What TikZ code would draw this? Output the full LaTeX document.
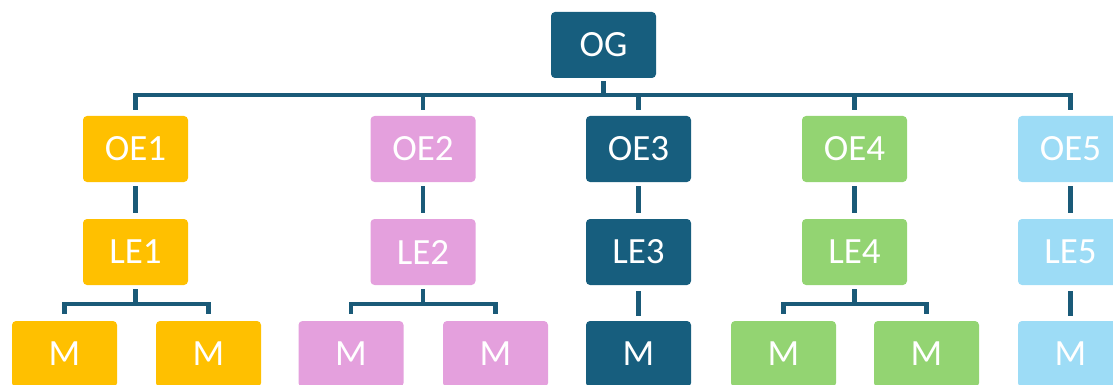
\documentclass[tikz,border=0pt]{standalone}
\usepackage{fontspec}
\setmainfont{Carlito}
\definecolor{dark}{HTML}{175E7E}
\definecolor{linec}{HTML}{1A5A78}
\definecolor{yel}{HTML}{FFC000}
\definecolor{pink}{HTML}{E4A0DD}
\definecolor{grn}{HTML}{93D472}
\definecolor{lblue}{HTML}{9DDCF6}
\begin{document}
\begin{tikzpicture}[x=1pt,y=-1pt,
  box/.style={rectangle, rounded corners=4pt, minimum width=105pt, minimum height=66pt, inner sep=0pt, text=white, font=\fontsize{37}{42}\selectfont},
  conn/.style={draw=linec, line width=4.5pt}]
\useasboundingbox (0,0) rectangle (1113,385);
% top
\node[box, fill=dark] (og) at (603.5,45) {OG};
% OE row
\node[box, fill=yel] (oe1) at (135.5,149) {OE1};
\node[box, fill=pink] (oe2) at (423,149) {OE2};
\node[box, fill=dark] (oe3) at (638.5,149) {OE3};
\node[box, fill=grn] (oe4) at (854.5,149) {OE4};
\node[box, fill=lblue] (oe5) at (1070.5,149) {OE5};
% LE row
\node[box, fill=yel] (le1) at (135.5,252) {LE1};
\node[box, fill=pink] (le2) at (423,252) {LE2};
\node[box, fill=dark] (le3) at (638.5,252) {LE3};
\node[box, fill=grn] (le4) at (854.5,252) {LE4};
\node[box, fill=lblue] (le5) at (1070.5,252) {LE5};
% M row
\node[box, fill=yel] (m1a) at (64.5,354) {M};
\node[box, fill=yel] (m1b) at (208.5,354) {M};
\node[box, fill=pink] (m2a) at (351,354) {M};
\node[box, fill=pink] (m2b) at (495.5,354) {M};
\node[box, fill=dark] (m3) at (638.5,354) {M};
\node[box, fill=grn] (m4a) at (783.5,354) {M};
\node[box, fill=grn] (m4b) at (926.5,354) {M};
\node[box, fill=lblue] (m5) at (1070.5,354) {M};
% OG to OE bus
\draw[conn, shorten <=3pt] (og.south) -- ++(0,17) coordinate (b0);
\foreach \n in {oe1,oe2,oe3,oe4,oe5}
  \draw[conn, shorten >=6pt] (b0) -| (\n.north);
% OE to LE
\foreach \i in {1,...,5}
  \draw[conn, shorten <=4pt, shorten >=6pt] (oe\i.south) -- (le\i.north);
% LE to M
\draw[conn, shorten <=4pt] (le1.south) -- ++(0,19) coordinate (s1);
\draw[conn, shorten >=7pt] (s1) -| (m1a.north);
\draw[conn, shorten >=7pt] (s1) -| (m1b.north);
\draw[conn, shorten <=4pt] (le2.south) -- ++(0,19) coordinate (s2);
\draw[conn, shorten >=7pt] (s2) -| (m2a.north);
\draw[conn, shorten >=7pt] (s2) -| (m2b.north);
\draw[conn, shorten <=4pt] (le4.south) -- ++(0,19) coordinate (s4);
\draw[conn, shorten >=7pt] (s4) -| (m4a.north);
\draw[conn, shorten >=7pt] (s4) -| (m4b.north);
\draw[conn, shorten <=6pt, shorten >=5pt] (le3.south) -- (m3.north);
\draw[conn, shorten <=6pt, shorten >=5pt] (le5.south) -- (m5.north);
\end{tikzpicture}
\end{document}
